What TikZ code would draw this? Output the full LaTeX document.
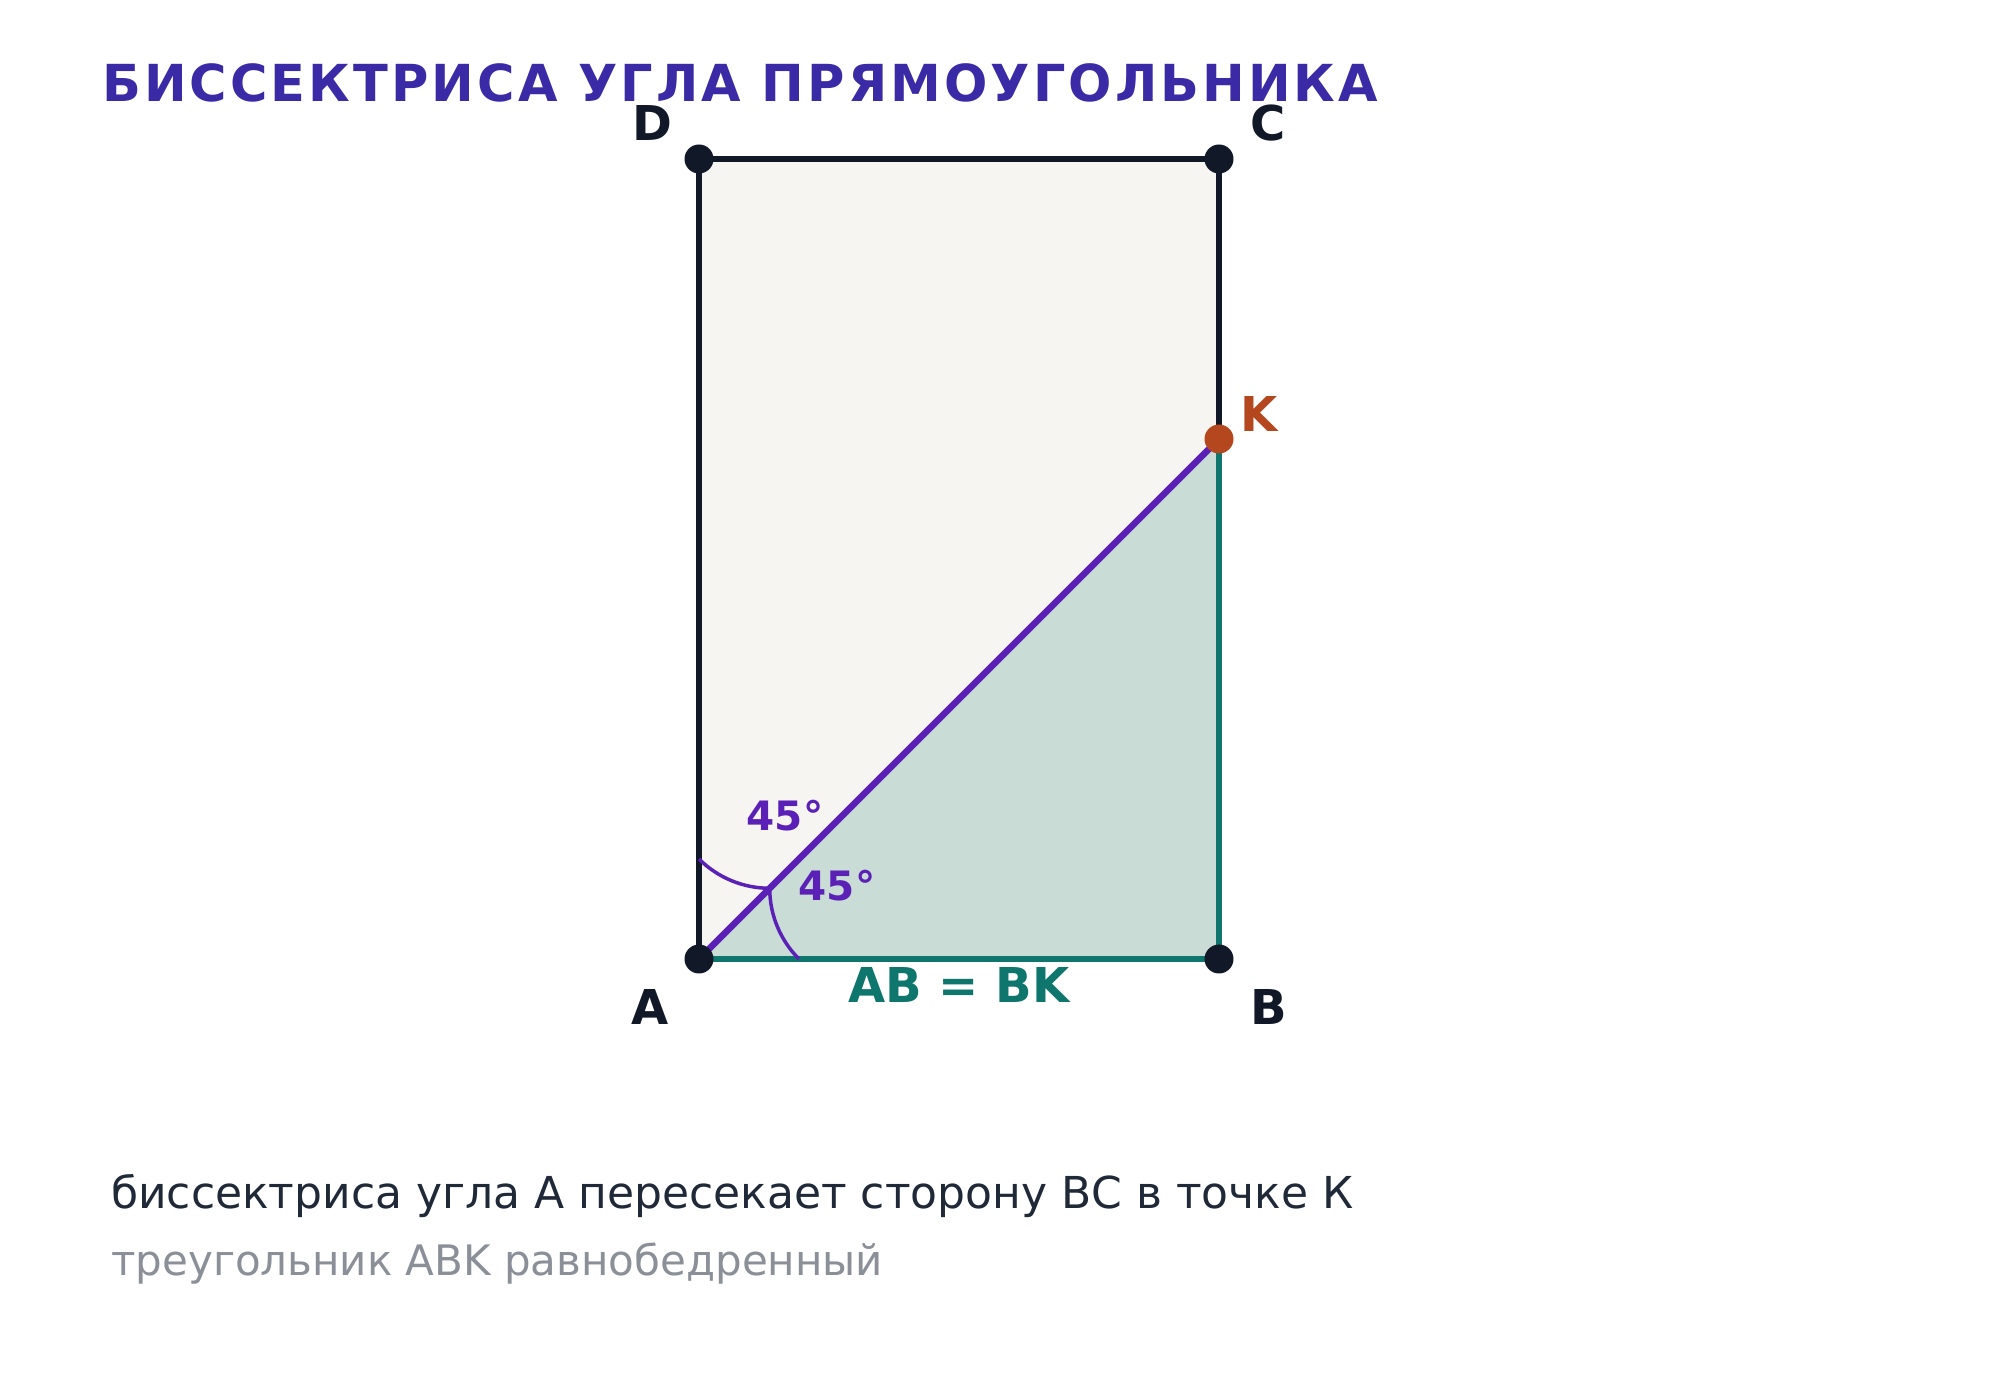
\documentclass[tikz,border=0pt]{standalone}
\usepackage{fontspec}
\setmainfont{DejaVu Sans}
\newfontfamily\titlefont[LetterSpace=6]{DejaVu Sans}
\definecolor{titlec}{HTML}{3A2AA6}
\definecolor{violetc}{HTML}{5B21B6}
\definecolor{tealc}{HTML}{0F766E}
\definecolor{orangec}{HTML}{B5471F}
\definecolor{darkc}{HTML}{111827}
\definecolor{rectfill}{HTML}{F7F5F1}
\definecolor{trifill}{HTML}{C9DCD6}
\definecolor{textc}{HTML}{1F2937}
\definecolor{grayc}{HTML}{8A8F98}
\begin{document}
\begin{tikzpicture}[x=1pt,y=1pt,
  vertexlbl/.style={font=\fontsize{48}{52}\selectfont\bfseries, text=darkc, inner sep=0pt},
  anglelbl/.style={font=\fontsize{40.5}{44}\selectfont\bfseries, text=violetc, inner sep=0pt},
  dotc/.style={circle, fill=darkc, minimum size=29pt, inner sep=0pt},
  side/.style={line width=5.5pt, draw=darkc},
  tside/.style={line width=5.5pt, draw=tealc},
  arcst/.style={line width=3.5pt, draw=violetc}]
\useasboundingbox (0,0) rectangle (2000,1400);
\fill[white] (0,0) rectangle (2000,1400);
\coordinate (A) at (699,441);
\coordinate (B) at (1219,441);
\coordinate (C) at (1219,1241);
\coordinate (D) at (699,1241);
\coordinate (K) at (1219,961);
% fills
\fill[rectfill] (A) rectangle (C);
\fill[trifill] (A) -- (B) -- (K) -- cycle;
% sides
\draw[side] (A) -- (D) -- (C) -- (K);
\draw[tside] (A) -- (B) -- (K);
% angle arcs
\coordinate (P1) at (699,541);
\coordinate (P2) at (769.7,511.7);
\draw[arcst] (P1) arc[start angle=225, end angle=270, radius=100];
\draw[arcst] (P2) arc[start angle=180, end angle=225, radius=100];
% bisector
\draw[line width=6.5pt, draw=violetc, line cap=round] (A) -- (K);
% dots
\node[dotc] (nA) at (A) {};
\node[dotc] (nB) at (B) {};
\node[dotc] (nC) at (C) {};
\node[dotc] (nD) at (D) {};
\node[circle, fill=orangec, minimum size=29pt, inner sep=0pt] (nK) at (K) {};
% labels
\node[vertexlbl] (lA) at (650,393) {A};
\node[vertexlbl] (lB) at (1269,393) {B};
\node[vertexlbl] (lC) at (1268,1277) {C};
\node[vertexlbl] (lD) at (652,1277) {D};
\node[vertexlbl, text=orangec] (lK) at (1259,986) {K};
\node[anglelbl] (a1) at (785,584) {45°};
\node[anglelbl] (a2) at (837,514) {45°};
\node[vertexlbl, text=tealc] (ab) at (959,415) {AB = BK};
% title
\node[anchor=base west, inner sep=0pt, text=titlec, font=\fontsize{51}{55}\titlefont\bfseries] (title) at (102,1298) {БИССЕКТРИСА УГЛА ПРЯМОУГОЛЬНИКА};
% captions
\node[anchor=base west, inner sep=0pt, text=textc, font=\fontsize{44}{48}\selectfont] (cap1) at (111,191) {биссектриса угла А пересекает сторону ВС в точке К};
\node[anchor=base west, inner sep=0pt, text=grayc, font=\fontsize{42}{46}\selectfont] (cap2) at (111,124) {треугольник ABK равнобедренный};
\end{tikzpicture}
\end{document}
